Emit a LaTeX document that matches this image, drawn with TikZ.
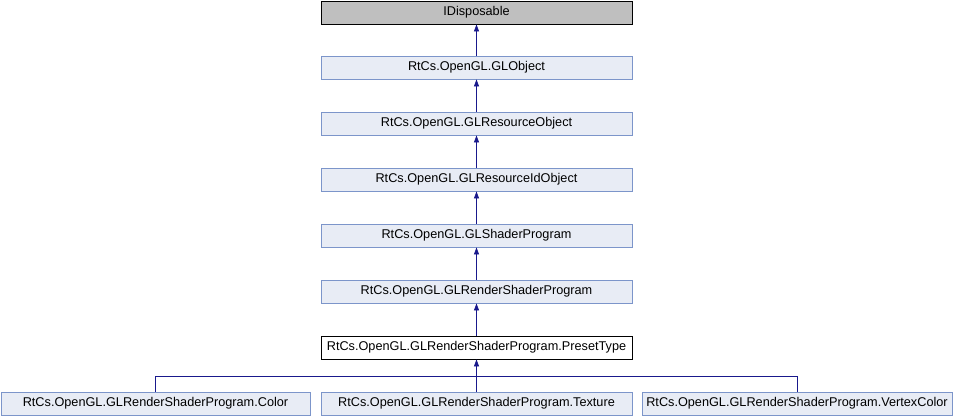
\documentclass[tikz,border=0pt]{standalone}
\usepackage{fontspec}
\setmainfont{Liberation Sans}
\usetikzlibrary{arrows.meta,positioning}
\definecolor{edgeblue}{RGB}{25,25,140}
\definecolor{boxfill}{RGB}{232,236,245}
\definecolor{boxline}{RGB}{124,149,202}
\definecolor{extfill}{RGB}{191,191,191}

\begin{document}
\begin{tikzpicture}[x=1pt,y=-1pt,
  cls/.style={draw=boxline, fill=boxfill, line width=0.8pt, minimum height=23pt,
    inner sep=0pt, font=\fontsize{12.7}{14}\selectfont},
  ext/.style={cls, draw=black, fill=extfill},
  cur/.style={cls, draw=black, fill=white},
  inh/.style={draw=edgeblue, line width=0.8pt, -{Triangle[width=5pt,length=7pt]}}]

% ===== canvas 953 x 416 =====
\useasboundingbox (0,0) rectangle (953,416);

% ============ main column ============
\node[ext, minimum width=311pt] (idisp) at (476.5,12.5) {IDisposable};
\node[cls, minimum width=311pt] (globj) at (476.5,67.5) {RtCs.OpenGL.GLObject};
\node[cls, minimum width=311pt] (glres) at (476.5,123.5) {RtCs.OpenGL.GLResourceObject};
\node[cls, minimum width=311pt] (glresid) at (476.5,179.5) {RtCs.OpenGL.GLResourceIdObject};
\node[cls, minimum width=311pt] (glshader) at (476.5,235.5) {RtCs.OpenGL.GLShaderProgram};
\node[cls, minimum width=311pt] (glrender) at (476.5,291.5) {RtCs.OpenGL.GLRenderShaderProgram};
\node[cur, minimum width=311pt] (preset) at (476.5,347.5) {RtCs.OpenGL.GLRenderShaderProgram.PresetType};

% ============ derived row ============
\node[cls, minimum width=309pt] (pcolor) at (155.5,403.5) {RtCs.OpenGL.GLRenderShaderProgram.Color};
\node[cls, minimum width=311pt] (ptex) at (476.5,403.5) {RtCs.OpenGL.GLRenderShaderProgram.Texture};
\node[cls, minimum width=310pt] (pvcol) at (797,403.5) {RtCs.OpenGL.GLRenderShaderProgram.VertexColor};

% ============ inheritance ============
\draw[inh] (globj) -- (idisp);
\draw[inh] (glres) -- (globj);
\draw[inh] (glresid) -- (glres);
\draw[inh] (glshader) -- (glresid);
\draw[inh] (glrender) -- (glshader);
\draw[inh] (preset) -- (glrender);

\coordinate (bus) at (476.5,376);
\draw[inh] (ptex) -- (preset);
\draw[draw=edgeblue, line width=0.8pt] (pcolor.north) |- (bus);
\draw[draw=edgeblue, line width=0.8pt] (pvcol.north) |- (bus);

\end{tikzpicture}
\end{document}
